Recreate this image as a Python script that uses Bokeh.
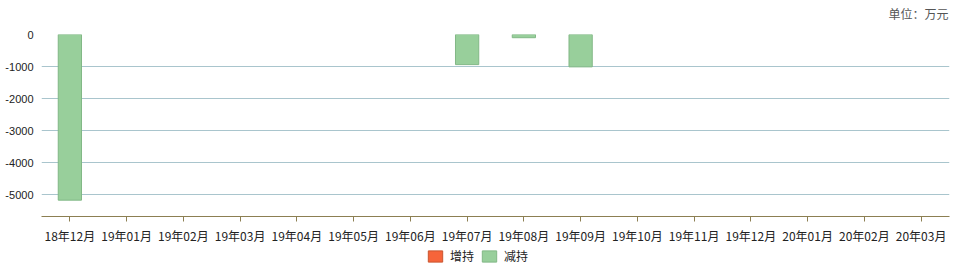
from bokeh.plotting import figure
from bokeh.layouts import column
from bokeh.models import (ColumnDataSource, FixedTicker, Legend, LegendItem,
                          Label, CDSView, BooleanFilter, Range1d, FactorRange,
                          PrintfTickFormatter)
from bokeh.embed import file_html
from bokeh.resources import INLINE

# Monthly holding changes (万元)
months = ["18年12月", "19年01月", "19年02月", "19年03月", "19年04月", "19年05月",
          "19年06月", "19年07月", "19年08月", "19年09月", "19年10月", "19年11月",
          "19年12月", "20年01月", "20年02月", "20年03月"]
increase = [0, 0, 0, 0, 0, 0, 0, 0, 0, 0, 0, 0, 0, 0, 0, 0]
decrease = [-5170, 0, 0, 0, 0, 0, 0, -940, -100, -1010, 0, 0, 0, 0, 0, 0]
y_ticks = [0, -1000, -2000, -3000, -4000, -5000]

INC_FILL, INC_LINE = "#f6643a", "#c9552f"
DEC_FILL, DEC_LINE = "#98cf9b", "#82b886"

src = ColumnDataSource(dict(month=months, inc=increase, dec=decrease))


def strip(height):
    """A bare figure used only to hold annotations."""
    f = figure(width=959, height=height, x_range=FactorRange(*months),
               y_range=Range1d(0, 1), output_backend="svg", toolbar_location=None,
               x_axis_type=None, y_axis_type=None, min_border=0)
    f.outline_line_color = None
    f.xgrid.visible = False
    f.ygrid.visible = False
    return f


# ---- unit caption ----
top = strip(24)
top.add_layout(Label(x=907, y=11, x_units="screen", y_units="screen",
                     text="单位：万元", text_align="right", text_baseline="middle",
                     text_font="Noto Sans CJK SC", text_font_size="12px",
                     text_color="#555555"))

# ---- main chart ----
chart = figure(width=959, height=222, x_range=FactorRange(*months),
               y_range=Range1d(-5680, 0),
               output_backend="svg", toolbar_location=None,
               min_border_left=41, min_border_right=10, min_border_top=10,
               min_border_bottom=27)
chart.outline_line_color = None

chart.vbar(x="month", top=0, bottom="inc", width=0.41, source=src,
           fill_color=INC_FILL, line_color=INC_LINE,
           view=CDSView(filter=BooleanFilter([v != 0 for v in increase])))
chart.vbar(x="month", top=0, bottom="dec", width=0.41, source=src,
           fill_color=DEC_FILL, line_color=DEC_LINE,
           view=CDSView(filter=BooleanFilter([v != 0 for v in decrease])))

chart.xgrid.grid_line_color = None
chart.ygrid.ticker = FixedTicker(ticks=[t for t in y_ticks if t != 0])
chart.ygrid.grid_line_color = "#a9c5cd"

chart.yaxis.ticker = FixedTicker(ticks=y_ticks)
chart.yaxis.formatter = PrintfTickFormatter(format="%d")
chart.yaxis.axis_line_color = None
chart.yaxis.major_tick_line_color = None
chart.yaxis.minor_tick_line_color = None
chart.yaxis.major_tick_out = 0
chart.yaxis.major_label_standoff = 8
chart.yaxis.major_label_text_font = "Liberation Sans"
chart.yaxis.major_label_text_font_size = "11px"
chart.yaxis.major_label_text_color = "#222222"

chart.xaxis.axis_line_color = "#8c7f52"
chart.xaxis.major_tick_line_color = "#8c7f52"
chart.xaxis.major_tick_out = 5
chart.xaxis.major_tick_in = 0
chart.xaxis.major_label_standoff = 5
chart.xaxis.major_label_text_font = "Noto Sans CJK SC"
chart.xaxis.major_label_text_font_size = "12px"
chart.xaxis.major_label_text_color = "#222222"

# ---- legend strip ----
leg = strip(32)
r_inc = leg.vbar(x="month", top=0, bottom="inc", width=0.41, source=src,
                 fill_color=INC_FILL, line_color=INC_LINE, visible=False)
r_dec = leg.vbar(x="month", top=0, bottom="dec", width=0.41, source=src,
                 fill_color=DEC_FILL, line_color=DEC_LINE, visible=False)
legend = Legend(items=[LegendItem(label="增持", renderers=[r_inc]),
                       LegendItem(label="减持", renderers=[r_dec])],
                orientation="horizontal", location=(385, 14),
                border_line_color=None, background_fill_alpha=0,
                glyph_width=18, glyph_height=14, label_height=14,
                label_text_font="Noto Sans CJK SC", label_text_font_size="12px",
                label_text_color="#222222", spacing=6, padding=0, margin=0,
                label_standoff=6)
leg.add_layout(legend, "center")

p = column(top, chart, leg, spacing=0)
open("out.html", "w").write(file_html(p, INLINE))
